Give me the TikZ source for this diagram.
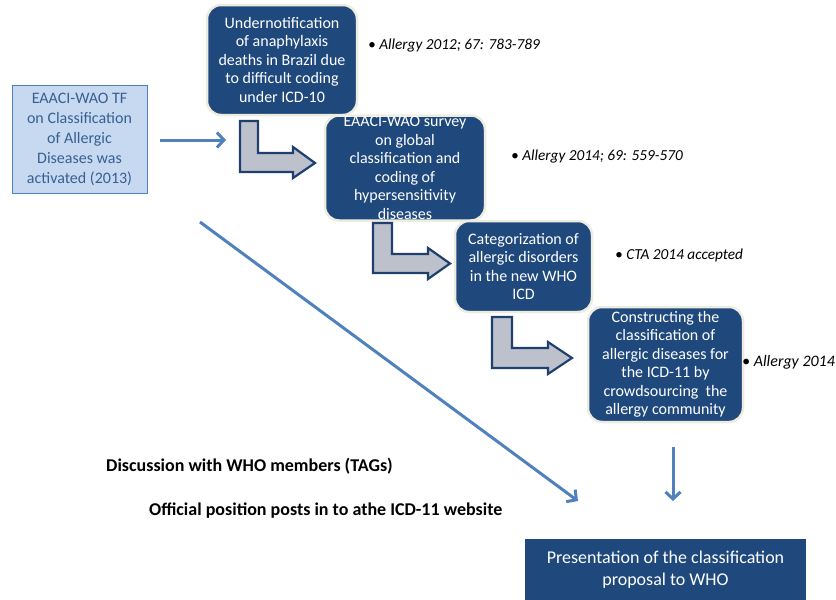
\documentclass[tikz,border=0pt]{standalone}
\usepackage{fontspec}
\setmainfont{Carlito}
\usetikzlibrary{arrows.meta}
\definecolor{boxblue}{HTML}{1F497D}
\definecolor{cream}{HTML}{EEECE1}
\definecolor{paleblue}{HTML}{C6D9F1}
\definecolor{midblue}{HTML}{4F81BD}
\definecolor{tfblue}{HTML}{366092}
\definecolor{bendgray}{HTML}{BCC1CC}
\definecolor{bendedge}{HTML}{1F3F6F}
\begin{document}
\begin{tikzpicture}[x=1pt,y=-1pt,
    stage/.style={rounded corners=14pt, fill=boxblue, draw=cream, line width=2.5pt,
        text=white, align=center, inner sep=0pt, font=\fontsize{16}{18.5}\selectfont},
    bendarrow/.style={fill=bendgray, draw=bendedge, line width=2.2pt, line join=miter},
    flow/.style={draw=midblue, line width=3pt, -{Straight Barb[length=7pt,width=15pt,line width=3pt]}},
    cite/.style={anchor=west, inner sep=0pt, font=\fontsize{15.3}{18}\selectfont\itshape},
    note/.style={anchor=west, inner sep=0pt, font=\fontsize{18}{21}\selectfont\bfseries}]
    \useasboundingbox (0,0) rectangle (836,600);

    % task force box
    \node[rectangle, fill=paleblue, draw=midblue, line width=1pt, text=tfblue, align=center,
        minimum width=135pt, minimum height=108pt, inner sep=0pt,
        font=\fontsize{16}{20}\selectfont] (tf) at (79.5,139)
        {EAACI-WAO TF\\on Classification\\of Allergic\\Diseases was\\activated (2013)};

    % stages
    \node[stage, minimum width=150pt, minimum height=110pt] (s1) at (282,60)
        {Undernotification\\of anaphylaxis\\deaths in Brazil due\\to difficult coding\\under ICD-10};
    \node[stage, minimum width=160pt, minimum height=105pt] (s2) at (405,168)
        {EAACI-WAO survey\\on global\\classification and\\coding of\\hypersensitivity\\diseases};
    \node[stage, minimum width=137pt, minimum height=91pt] (s3) at (523.5,266.5)
        {Categorization of\\allergic disorders\\in the new WHO\\ICD};
    \node[stage, minimum width=155pt, minimum height=115pt] (s4) at (665.5,364.5)
        {Constructing the\\classification of\\allergic diseases for\\the ICD-11 by\\crowdsourcing\ \ the\\allergy community};
    \node[rectangle, fill=boxblue, text=white, align=center, minimum width=281pt, minimum height=62pt,
        inner sep=0pt, font=\fontsize{18}{22}\selectfont] (who) at (665.5,570)
        {Presentation of the classification\\proposal to WHO};

    % references
    \node[cite] (c1) at (368,45) {• Allergy 2012; 67: 783-789};
    \node[cite] (c2) at (511,156) {• Allergy 2014; 69: 559-570};
    \node[cite] (c3) at (615,255) {• CTA 2014 accepted};
    \node[cite, font=\fontsize{16}{18}\selectfont\itshape] (c4) at (742,362) {• Allergy 2014};

    \node[note] (d1) at (106,466) {Discussion with WHO members (TAGs)};
    \node[note] (d2) at (149,511) {Official position posts in to athe ICD-11 website};

    % bent arrows
    \draw[bendarrow] (240,121) -- (258,121) -- (258,153) -- (293,153) -- (293,147) -- (315,163)
        -- (293,178) -- (293,172) -- (240,172) -- cycle;
    \draw[bendarrow] (373,223) -- (392,223) -- (392,254) -- (428,254) -- (428,248) -- (450,263.5)
        -- (428,279) -- (428,273) -- (373,273) -- cycle;
    \draw[bendarrow] (492,317) -- (512,317) -- (512,348) -- (548,348) -- (548,342) -- (572,358)
        -- (548,374) -- (548,368) -- (492,368) -- cycle;

    % blue connectors
    \coordinate (h1) at (160,140);
    \coordinate (h2) at (226,140);
    \coordinate (g1) at (200,222);
    \coordinate (g2) at (578,501);
    \coordinate (v1) at (673,447);
    \coordinate (v2) at (673,501);
    \draw[flow] (h1) -- (h2);
    \draw[flow] (g1) -- (g2);
    \draw[flow] (v1) -- (v2);
\end{tikzpicture}
\end{document}
